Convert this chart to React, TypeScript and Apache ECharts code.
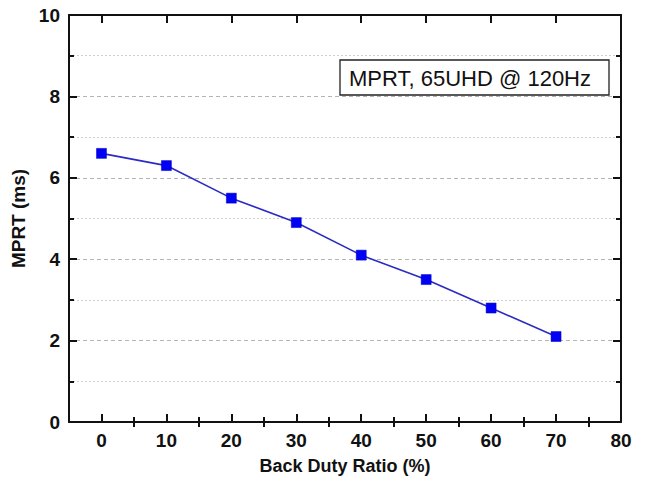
import React, { useEffect, useRef } from "react";
import * as echarts from "echarts";

const dutyRatio = [0, 10, 20, 30, 40, 50, 60, 70];
const mprt = [6.6, 6.3, 5.5, 4.9, 4.1, 3.5, 2.8, 2.1];
const majorXTicks = [0, 10, 20, 30, 40, 50, 60, 70, 80];
const minorXTicks = [5, 15, 25, 35, 45, 55, 65, 75];
const legendText = "MPRT, 65UHD @ 120Hz";

const FONT = "'Liberation Sans', Arial, sans-serif";

export default function App() {
  const ref = useRef<HTMLDivElement>(null);
  useEffect(() => {
    if (!ref.current) return;
    const chart = echarts.init(ref.current, null, { renderer: "svg" });
    const lineStyle = { color: "#111", width: 2 };
    const xBase = {
      type: "value",
      min: -5,
      max: 80,
      interval: 5,
      splitLine: { show: false },
    };
    chart.setOption({
      animation: false,
      backgroundColor: "#fff",
      grid: { left: 69, right: 25, top: 15, bottom: 67, containLabel: false },
      xAxis: [
        {
          ...xBase,
          position: "bottom",
          name: "Back Duty Ratio (%)",
          nameLocation: "middle",
          nameGap: 35,
          nameTextStyle: { fontFamily: FONT, fontWeight: "bold", fontSize: 18, color: "#111" },
          axisLine: { show: true, onZero: false, lineStyle },
          axisTick: { show: true, inside: true, length: 8, customValues: majorXTicks, lineStyle },
          axisLabel: {
            show: true,
            customValues: majorXTicks,
            margin: 9,
            fontFamily: FONT,
            fontWeight: "bold",
            fontSize: 19,
            color: "#111",
          },
        },
        {
          ...xBase,
          position: "bottom",
          axisLine: { show: false },
          axisTick: { show: true, inside: true, length: 5, customValues: minorXTicks, lineStyle },
          axisLabel: { show: false },
        },
        {
          ...xBase,
          position: "top",
          axisLine: { show: true, onZero: false, lineStyle },
          axisTick: { show: true, inside: true, length: 8, customValues: majorXTicks, lineStyle },
          axisLabel: { show: false },
        },
        {
          ...xBase,
          position: "top",
          axisLine: { show: false },
          axisTick: { show: true, inside: true, length: 5, customValues: minorXTicks, lineStyle },
          axisLabel: { show: false },
        },
      ],
      yAxis: [
        {
          type: "value",
          position: "left",
          min: 0,
          max: 10,
          interval: 2,
          name: "MPRT (ms)",
          nameLocation: "middle",
          nameGap: 32,
          nameRotate: 90,
          nameTextStyle: { fontFamily: FONT, fontWeight: "bold", fontSize: 19, color: "#111" },
          axisLine: { show: true, onZero: false, lineStyle },
          axisTick: { show: true, inside: true, length: 8, lineStyle },
          minorTick: { show: true, splitNumber: 2, length: 5, lineStyle },
          axisLabel: {
            margin: 9,
            fontFamily: FONT,
            fontWeight: "bold",
            fontSize: 19,
            color: "#111",
          },
          splitLine: { show: true, lineStyle: { color: "#b4b4b4", type: [4, 3], width: 1 } },
          minorSplitLine: { show: true, lineStyle: { color: "#d0d0d0", type: [2, 2], width: 1 } },
        },
        {
          type: "value",
          position: "right",
          min: 0,
          max: 10,
          interval: 2,
          axisLine: { show: true, onZero: false, lineStyle },
          axisTick: { show: true, inside: true, length: 8, lineStyle },
          minorTick: { show: true, splitNumber: 2, length: 5, lineStyle },
          axisLabel: { show: false },
          splitLine: { show: false },
        },
      ],
      series: [
        {
          type: "line",
          xAxisIndex: 0,
          yAxisIndex: 0,
          data: dutyRatio.map((d, i) => [d, mprt[i]]),
          symbol: "rect",
          symbolSize: 10,
          lineStyle: { color: "#2b2bc4", width: 1.6 },
          itemStyle: { color: "#0000f5", borderColor: "#0000c0", borderWidth: 0.5 },
          z: 5,
        },
      ],
      graphic: [
        {
          type: "rect",
          z: 100,
          shape: { x: 340, y: 60, width: 269, height: 35 },
          style: { fill: "#fff", stroke: "#222", lineWidth: 1.3 },
        },
        {
          type: "text",
          z: 101,
          x: 470,
          y: 78,
          style: {
            text: legendText,
            fontFamily: FONT,
            fontSize: 22,
            fill: "#111",
            align: "center",
            verticalAlign: "middle",
          },
        },
      ],
    });
    return () => chart.dispose();
  }, []);
  return <div ref={ref} style={{ width: 646, height: 489, position: "absolute", left: 0, top: 0 }} />;
}
